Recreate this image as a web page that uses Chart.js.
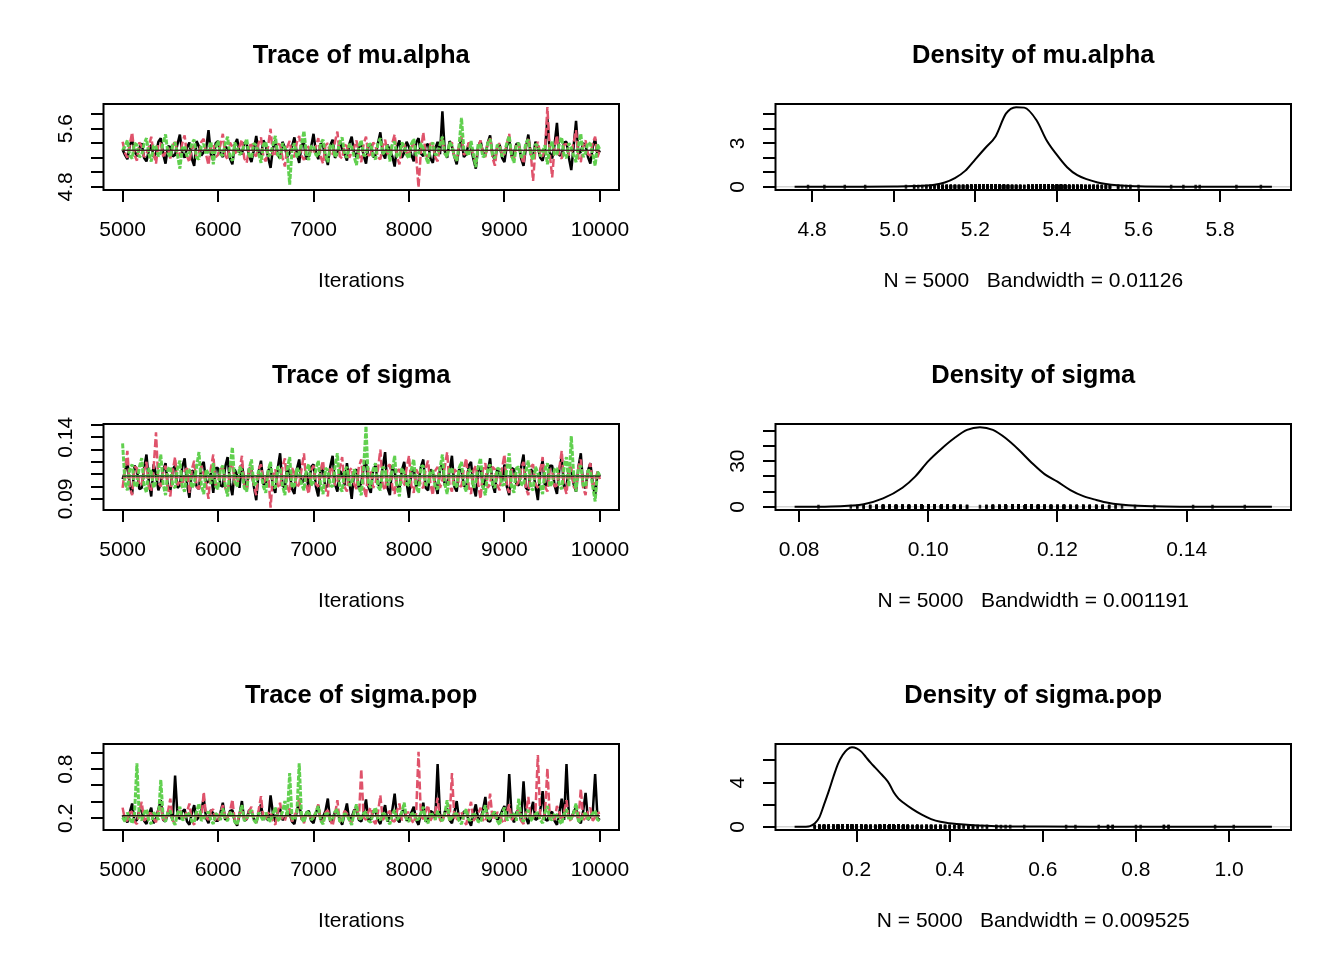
<!DOCTYPE html>
<html>
<head>
<meta charset="utf-8">
<script src="https://cdn.jsdelivr.net/npm/chart.js@4.4.1/dist/chart.umd.min.js"></script>
<style>
html, body { margin: 0; padding: 0; background: #fff; }
#wrap { position: relative; width: 1344px; height: 960px; }
canvas { position: absolute; }
</style>
</head>
<body>
<div id="wrap">
<canvas id="trace1" width="672" height="320" style="left:0;top:0"></canvas>
<canvas id="dens1" width="672" height="320" style="left:672px;top:0"></canvas>
<canvas id="trace2" width="672" height="320" style="left:0;top:320px"></canvas>
<canvas id="dens2" width="672" height="320" style="left:672px;top:320px"></canvas>
<canvas id="trace3" width="672" height="320" style="left:0;top:640px"></canvas>
<canvas id="dens3" width="672" height="320" style="left:672px;top:640px"></canvas>
</div>
<script>
// thinned iterations (every 25th of 5000..10000)
var iterations = Array.from({length: 201}, function (_, i) { return 5000 + 25 * i; });

// ---- mu.alpha ----
var muAlphaChain1 = [
  5.31,5.24,5.18,5.37,5.45,5.29,5.22,5.33,5.40,5.20,5.15,5.30,5.38,5.21,5.26,5.42,5.47,5.25,5.12,5.36,
  5.35,5.22,5.24,5.39,5.52,5.27,5.20,5.34,5.41,5.19,5.09,5.43,5.36,5.23,5.28,5.32,5.58,5.25,5.17,5.40,
  5.43,5.26,5.21,5.35,5.33,5.19,5.11,5.38,5.46,5.28,5.25,5.41,5.39,5.22,5.14,5.31,5.50,5.27,5.23,5.44,
  5.37,5.20,5.06,5.33,5.44,5.24,5.19,5.42,5.34,5.21,5.27,5.36,5.48,5.26,5.13,5.38,5.40,5.18,5.22,5.35,
  5.53,5.28,5.18,5.40,5.36,5.23,5.10,5.37,5.45,5.20,5.26,5.43,5.32,5.25,5.16,5.39,5.49,5.27,5.21,5.34,
  5.41,5.23,5.12,5.36,5.38,5.21,5.24,5.40,5.55,5.26,5.19,5.38,5.30,5.22,5.08,5.35,5.44,5.20,5.27,5.42,
  5.35,5.24,5.15,5.41,5.47,5.26,5.22,5.37,5.39,5.19,5.13,5.33,5.42,5.25,5.84,5.29,5.20,5.43,5.36,5.22,
  5.11,5.34,5.46,5.21,5.25,5.40,5.33,5.18,5.05,5.36,5.43,5.27,5.23,5.41,5.51,5.24,5.17,5.35,5.38,5.20,
  5.14,5.37,5.45,5.22,5.26,5.39,5.40,5.19,5.09,5.34,5.52,5.25,5.21,5.42,5.35,5.20,5.16,5.31,5.74,5.27,
  5.19,5.38,5.68,5.23,5.24,5.41,5.42,5.20,5.03,5.36,5.71,5.26,5.28,5.40,5.37,5.21,5.12,5.35,5.46,5.24, 5.30];
var muAlphaChain2 = [
  5.42,5.27,5.20,5.38,5.55,5.24,5.16,5.41,5.36,5.21,5.25,5.35,5.49,5.26,5.12,5.39,5.40,5.22,5.28,5.34,
  5.19,5.36,5.44,5.25,5.23,5.40,5.51,5.22,5.14,5.33,5.37,5.20,5.27,5.42,5.46,5.24,5.10,5.37,5.39,5.21,
  5.24,5.38,5.53,5.23,5.18,5.41,5.35,5.26,5.29,5.36,5.45,5.19,5.13,5.34,5.41,5.25,5.22,5.40,5.48,5.21,
  5.15,5.37,5.60,5.22,5.26,5.39,5.38,5.20,5.08,5.35,5.43,5.24,5.21,5.41,5.50,5.23,5.17,5.38,5.34,5.26,
  5.27,5.35,5.47,5.21,5.12,5.37,5.40,5.25,5.23,5.42,5.56,5.22,5.19,5.38,5.36,5.20,5.28,5.34,5.44,5.24,
  5.14,5.39,5.49,5.23,5.25,5.41,5.37,5.20,5.18,5.36,5.45,5.26,5.22,5.40,5.52,5.21,5.11,5.35,5.39,5.27,
  5.26,5.34,5.43,5.22,4.79,5.30,5.55,5.24,5.20,5.40,5.38,5.21,5.15,5.37,5.46,5.25,5.24,5.39,5.41,5.20,
  5.17,5.38,5.50,5.24,5.27,5.41,5.36,5.22,5.13,5.35,5.44,5.26,5.21,5.40,5.48,5.20,5.09,5.36,5.40,5.23,
  5.25,5.39,5.53,5.21,5.18,5.40,5.37,5.24,5.12,5.36,5.46,5.28,4.88,5.33,5.42,5.25,5.22,5.31,5.90,5.26,
  4.93,5.35,5.51,5.22,5.19,5.38,5.39,5.24,5.26,5.41,5.58,5.20,5.14,5.37,5.44,5.25,5.23,5.40,5.49,5.21, 5.32];
var muAlphaChain3 = [
  5.30,5.36,5.44,5.23,5.19,5.40,5.38,5.21,5.24,5.39,5.47,5.25,5.15,5.37,5.35,5.22,5.27,5.41,5.52,5.26,
  5.21,5.38,5.41,5.24,5.05,5.33,5.36,5.22,5.26,5.40,5.45,5.20,5.18,5.36,5.39,5.25,5.29,5.42,5.11,5.34,
  5.43,5.25,5.23,5.39,5.49,5.22,5.16,5.41,5.34,5.24,5.28,5.37,5.46,5.23,5.20,5.40,5.37,5.26,5.13,5.38,
  5.42,5.22,5.25,5.38,5.50,5.24,5.19,5.40,5.33,5.27,4.83,5.31,5.40,5.21,5.26,5.39,5.57,5.25,5.17,5.36,
  5.36,5.24,5.22,5.40,5.45,5.23,5.14,5.37,5.38,5.21,5.27,5.41,5.48,5.25,5.20,5.39,5.35,5.22,5.10,5.36,
  5.44,5.23,5.24,5.38,5.39,5.22,5.18,5.40,5.47,5.25,5.29,5.37,5.15,5.39,5.42,5.21,5.23,5.41,5.36,5.24,
  5.19,5.39,5.46,5.23,5.26,5.40,5.33,5.22,5.12,5.36,5.41,5.24,5.25,5.38,5.49,5.26,5.21,5.41,5.37,5.22,
  5.16,5.37,5.75,5.30,5.28,5.23,5.43,5.25,5.07,5.39,5.38,5.21,5.24,5.40,5.46,5.24,5.19,5.38,5.35,5.22,
  5.27,5.40,5.50,5.23,5.13,5.38,5.40,5.21,5.22,5.41,5.45,5.25,5.17,5.39,5.36,5.22,5.29,5.37,5.11,5.34,
  5.42,5.24,5.25,5.39,5.48,5.22,5.20,5.40,5.34,5.23,5.14,5.37,5.53,5.21,5.27,5.41,5.39,5.25,5.09,5.38, 5.31];
var muAlphaSmooth = [5.305, 5.300, 5.302];
var muAlphaRange = [4.80, 5.897];
var muAlphaDensX = [4.757,4.9,5.0,5.05,5.1,5.125,5.15,5.175,5.2,5.225,5.25,5.275,5.3,5.32,5.35,5.375,5.4,5.425,5.45,5.5,5.55,5.6,5.7,5.927];
var muAlphaDensY = [0,0.005,0.02,0.05,0.15,0.3,0.6,1.1,1.9,2.7,3.5,5.05,5.5,5.47,4.6,3.2,2.2,1.35,0.8,0.3,0.1,0.04,0.01,0];

// ---- sigma ----
var sigmaChain1 = [
  0.106,0.112,0.121,0.101,0.094,0.117,0.114,0.098,0.099,0.115,0.126,0.104,0.092,0.118,0.110,0.097,0.103,0.113,0.119,0.100,
  0.096,0.114,0.117,0.099,0.101,0.116,0.123,0.102,0.091,0.113,0.112,0.100,0.098,0.117,0.120,0.103,0.104,0.111,0.095,0.115,
  0.115,0.101,0.100,0.116,0.124,0.103,0.093,0.114,0.109,0.099,0.118,0.105,0.097,0.115,0.113,0.100,0.089,0.112,0.121,0.102,
  0.102,0.113,0.116,0.100,0.095,0.115,0.127,0.101,0.099,0.117,0.111,0.098,0.094,0.114,0.122,0.103,0.105,0.112,0.097,0.116,
  0.118,0.100,0.092,0.115,0.113,0.099,0.101,0.116,0.125,0.102,0.096,0.113,0.110,0.101,0.119,0.104,0.090,0.112,0.114,0.098,
  0.103,0.115,0.121,0.100,0.095,0.114,0.117,0.102,0.100,0.116,0.128,0.099,0.093,0.117,0.112,0.101,0.098,0.113,0.120,0.103,
  0.091,0.112,0.115,0.100,0.104,0.116,0.122,0.099,0.097,0.114,0.111,0.103,0.094,0.115,0.118,0.101,0.102,0.113,0.125,0.100,
  0.096,0.114,0.113,0.101,0.099,0.117,0.120,0.100,0.092,0.113,0.116,0.099,0.105,0.112,0.123,0.102,0.095,0.115,0.110,0.104,
  0.118,0.100,0.093,0.115,0.114,0.102,0.101,0.116,0.126,0.099,0.097,0.114,0.112,0.101,0.089,0.113,0.121,0.100,0.103,0.117,
  0.117,0.101,0.094,0.114,0.124,0.099,0.100,0.115,0.113,0.102,0.096,0.116,0.127,0.100,0.099,0.113,0.119,0.103,0.092,0.112, 0.108];
var sigmaChain2 = [
  0.099,0.114,0.129,0.100,0.093,0.116,0.115,0.101,0.102,0.113,0.120,0.099,0.096,0.115,0.144,0.103,0.100,0.112,0.117,0.098,
  0.092,0.113,0.124,0.101,0.105,0.099,0.113,0.115,0.095,0.114,0.121,0.100,0.098,0.117,0.110,0.102,0.090,0.115,0.126,0.101,
  0.103,0.114,0.116,0.099,0.094,0.115,0.119,0.102,0.101,0.113,0.125,0.100,0.097,0.116,0.112,0.101,0.093,0.114,0.118,0.103,
  0.106,0.112,0.083,0.109,0.114,0.101,0.099,0.116,0.123,0.100,0.095,0.115,0.111,0.099,0.102,0.114,0.127,0.101,0.094,0.113,
  0.117,0.102,0.100,0.114,0.121,0.099,0.092,0.116,0.113,0.101,0.104,0.115,0.124,0.100,0.096,0.113,0.115,0.102,0.098,0.116,
  0.122,0.100,0.091,0.115,0.112,0.099,0.103,0.114,0.130,0.101,0.097,0.116,0.118,0.100,0.094,0.113,0.114,0.102,0.101,0.115,
  0.125,0.101,0.095,0.114,0.110,0.100,0.099,0.115,0.121,0.102,0.093,0.113,0.116,0.099,0.105,0.116,0.128,0.101,0.096,0.114,
  0.112,0.101,0.100,0.115,0.123,0.100,0.094,0.113,0.117,0.102,0.090,0.114,0.119,0.099,0.102,0.116,0.114,0.101,0.097,0.115,
  0.126,0.100,0.095,0.114,0.111,0.101,0.104,0.115,0.120,0.099,0.093,0.116,0.118,0.102,0.099,0.113,0.124,0.100,0.096,0.114,
  0.113,0.100,0.101,0.115,0.129,0.101,0.094,0.114,0.116,0.100,0.098,0.116,0.122,0.099,0.093,0.113,0.119,0.101,0.104,0.112, 0.106];
var sigmaChain3 = [
  0.135,0.103,0.097,0.114,0.118,0.100,0.101,0.116,0.123,0.101,0.095,0.115,0.112,0.099,0.104,0.113,0.126,0.102,0.093,0.114,
  0.116,0.101,0.099,0.115,0.121,0.100,0.096,0.113,0.114,0.099,0.102,0.116,0.128,0.101,0.094,0.114,0.110,0.102,0.119,0.100,
  0.098,0.114,0.117,0.101,0.092,0.115,0.132,0.104,0.100,0.116,0.113,0.099,0.096,0.114,0.122,0.101,0.103,0.113,0.111,0.100,
  0.095,0.113,0.120,0.100,0.099,0.116,0.115,0.101,0.093,0.114,0.124,0.099,0.101,0.115,0.112,0.102,0.097,0.113,0.118,0.101,
  0.104,0.114,0.121,0.100,0.094,0.115,0.113,0.101,0.100,0.116,0.127,0.099,0.096,0.113,0.116,0.101,0.102,0.114,0.110,0.100,
  0.093,0.115,0.149,0.102,0.099,0.114,0.119,0.100,0.097,0.116,0.114,0.101,0.105,0.113,0.125,0.099,0.092,0.115,0.111,0.102,
  0.101,0.114,0.122,0.100,0.095,0.116,0.117,0.101,0.103,0.112,0.113,0.099,0.098,0.115,0.126,0.102,0.094,0.114,0.115,0.100,
  0.100,0.115,0.120,0.101,0.096,0.114,0.112,0.099,0.104,0.116,0.123,0.100,0.093,0.113,0.118,0.102,0.099,0.115,0.114,0.101,
  0.102,0.114,0.127,0.100,0.095,0.115,0.116,0.102,0.101,0.113,0.121,0.099,0.097,0.116,0.111,0.101,0.094,0.114,0.119,0.100,
  0.103,0.114,0.115,0.101,0.098,0.116,0.124,0.100,0.141,0.110,0.096,0.115,0.117,0.101,0.100,0.113,0.113,0.100,0.088,0.112, 0.109];
var sigmaSmooth = [0.1085, 0.1072, 0.1090];
var sigmaRange = [0.0836, 0.1482];
var sigmaDensX = [0.0793,0.084,0.087,0.090,0.093,0.096,0.098,0.100,0.102,0.104,0.106,0.108,0.110,0.112,0.114,0.116,0.118,0.120,0.122,0.124,0.126,0.128,0.131,0.135,0.140,0.1532];
var sigmaDensY = [0,0.1,0.5,1.7,5.5,12.5,20,30,38,45,50.5,52.3,50.5,45,37.5,29,21.5,16.5,11,7,4.5,2.5,1,0.3,0.1,0];

// ---- sigma.pop ----
var sigmaPopChain1 = [
  0.24,0.19,0.15,0.27,0.38,0.16,0.18,0.30,0.29,0.17,0.13,0.25,0.33,0.14,0.20,0.31,0.42,0.18,0.16,0.28,
  0.27,0.17,0.72,0.24,0.19,0.28,0.31,0.16,0.12,0.26,0.36,0.18,0.22,0.29,0.45,0.20,0.14,0.30,0.26,0.17,
  0.17,0.27,0.39,0.18,0.21,0.29,0.30,0.16,0.11,0.25,0.41,0.17,0.19,0.30,0.28,0.19,0.15,0.26,0.37,0.18,
  0.23,0.17,0.48,0.26,0.16,0.28,0.32,0.18,0.20,0.27,0.26,0.16,0.13,0.29,0.40,0.19,0.18,0.27,0.29,0.17,
  0.14,0.26,0.35,0.18,0.22,0.29,0.44,0.16,0.17,0.28,0.27,0.19,0.12,0.25,0.38,0.17,0.21,0.30,0.31,0.18,
  0.16,0.27,0.43,0.17,0.19,0.29,0.28,0.18,0.13,0.26,0.36,0.16,0.23,0.30,0.50,0.19,0.15,0.28,0.30,0.17,
  0.20,0.27,0.34,0.18,0.12,0.26,0.39,0.16,0.18,0.29,0.27,0.19,0.86,0.25,0.17,0.28,0.32,0.18,0.14,0.27,
  0.41,0.18,0.21,0.28,0.29,0.17,0.11,0.26,0.37,0.19,0.19,0.30,0.46,0.17,0.16,0.27,0.26,0.18,0.22,0.29,
  0.35,0.18,0.74,0.22,0.15,0.27,0.31,0.17,0.65,0.21,0.13,0.28,0.40,0.18,0.20,0.29,0.53,0.19,0.17,0.26,
  0.28,0.17,0.12,0.27,0.44,0.18,0.86,0.23,0.19,0.28,0.33,0.17,0.14,0.29,0.51,0.18,0.22,0.27,0.74,0.20, 0.18];
var sigmaPopChain2 = [
  0.33,0.18,0.17,0.27,0.28,0.16,0.13,0.29,0.40,0.17,0.20,0.26,0.26,0.19,0.15,0.30,0.35,0.18,0.19,0.28,
  0.44,0.17,0.14,0.26,0.30,0.18,0.22,0.28,0.38,0.17,0.12,0.25,0.27,0.19,0.52,0.21,0.18,0.29,0.31,0.18,
  0.16,0.27,0.36,0.18,0.21,0.28,0.43,0.17,0.13,0.26,0.29,0.19,0.19,0.29,0.34,0.17,0.15,0.30,0.47,0.18,
  0.20,0.26,0.28,0.17,0.12,0.28,0.39,0.18,0.17,0.27,0.32,0.16,0.23,0.29,0.45,0.19,0.14,0.26,0.27,0.18,
  0.21,0.28,0.37,0.17,0.16,0.27,0.30,0.18,0.11,0.25,0.42,0.16,0.19,0.29,0.26,0.18,0.15,0.27,0.35,0.19,
  0.80,0.21,0.18,0.28,0.33,0.17,0.13,0.27,0.48,0.18,0.22,0.26,0.29,0.17,0.16,0.29,0.38,0.18,0.20,0.27,
  0.27,0.18,0.14,0.26,1.01,0.22,0.19,0.28,0.36,0.17,0.23,0.27,0.45,0.18,0.15,0.29,0.31,0.17,0.75,0.21,
  0.17,0.27,0.28,0.18,0.12,0.29,0.40,0.17,0.21,0.26,0.33,0.18,0.16,0.28,0.50,0.19,0.19,0.27,0.26,0.17,
  0.14,0.27,0.37,0.18,0.22,0.28,0.30,0.17,0.13,0.26,0.46,0.19,0.20,0.29,0.97,0.23,0.18,0.27,0.81,0.20,
  0.24,0.18,0.35,0.27,0.15,0.28,0.42,0.17,0.19,0.26,0.29,0.18,0.56,0.20,0.17,0.28,0.33,0.17,0.21,0.26, 0.27];
var sigmaPopChain3 = [
  0.21,0.16,0.27,0.19,0.14,0.25,0.87,0.20,0.18,0.26,0.31,0.17,0.13,0.27,0.24,0.18,0.67,0.21,0.16,0.28,
  0.29,0.17,0.12,0.26,0.34,0.18,0.19,0.27,0.25,0.16,0.15,0.28,0.38,0.17,0.20,0.25,0.28,0.18,0.13,0.26,
  0.23,0.18,0.32,0.19,0.17,0.27,0.26,0.16,0.12,0.25,0.36,0.17,0.19,0.26,0.30,0.18,0.14,0.27,0.22,0.17,
  0.27,0.19,0.16,0.26,0.33,0.17,0.20,0.28,0.41,0.22,0.75,0.20,0.18,0.25,0.87,0.21,0.15,0.26,0.29,0.18,
  0.21,0.27,0.35,0.17,0.13,0.25,0.26,0.18,0.19,0.28,0.31,0.16,0.16,0.26,0.24,0.18,0.12,0.27,0.37,0.19,
  0.20,0.26,0.28,0.17,0.15,0.27,0.33,0.19,0.18,0.26,0.25,0.17,0.13,0.25,0.30,0.18,0.22,0.27,0.39,0.18,
  0.16,0.25,0.27,0.18,0.19,0.26,0.34,0.17,0.14,0.27,0.24,0.18,0.29,0.19,0.17,0.26,0.42,0.17,0.21,0.25,
  0.26,0.17,0.13,0.25,0.31,0.18,0.18,0.27,0.23,0.16,0.15,0.26,0.36,0.18,0.20,0.25,0.28,0.17,0.12,0.26,
  0.33,0.18,0.19,0.26,0.25,0.17,0.44,0.20,0.16,0.26,0.30,0.17,0.21,0.25,0.27,0.18,0.14,0.27,0.35,0.19,
  0.18,0.26,0.24,0.17,0.13,0.25,0.31,0.18,0.20,0.27,0.38,0.17,0.16,0.25,0.26,0.19,0.22,0.26,0.29,0.18, 0.17];
var sigmaPopSmooth = [0.232, 0.228, 0.224];
var sigmaPopRange = [0.096, 1.067];
var sigmaPopDensX = [0.0668,0.09,0.10,0.11,0.12,0.13,0.14,0.15,0.16,0.17,0.18,0.19,0.20,0.21,0.22,0.23,0.24,0.25,0.26,0.27,0.28,0.29,0.30,0.32,0.34,0.36,0.38,0.40,0.43,0.46,0.50,0.55,0.60,0.70,0.80,1.092];
var sigmaPopDensY = [0,0.01,0.06,0.3,0.85,2.0,3.2,4.5,5.7,6.5,7.0,7.2,7.1,6.8,6.3,5.8,5.35,4.9,4.45,3.9,3.1,2.55,2.2,1.6,1.1,0.7,0.45,0.33,0.2,0.12,0.06,0.03,0.02,0.01,0.005,0];

// ---- tick labels ----
var iterTicks = ['5000','6000','7000','8000','9000','10000'];
var muAlphaTraceTicks = ['4.8','5.0','5.2','5.4','5.6','5.8'];
var muAlphaTraceShown = ['4.8','5.6'];
var sigmaTraceTicks = ['0.09','0.10','0.11','0.12','0.13','0.14','0.15'];
var sigmaTraceShown = ['0.09','0.14'];
var sigmaPopTraceTicks = ['0.2','0.4','0.6','0.8','1.0'];
var sigmaPopTraceShown = ['0.2','0.8'];
var muAlphaDensTicks = ['4.8','5.0','5.2','5.4','5.6','5.8'];
var sigmaDensTicks = ['0.08','0.10','0.12','0.14'];
var sigmaPopDensTicks = ['0.2','0.4','0.6','0.8','1.0'];
var muAlphaDensYTicks = ['0','1','2','3','4','5'];
var muAlphaDensYShown = ['0','3'];
var sigmaDensYTicks = ['0','10','20','30','40','50'];
var sigmaDensYShown = ['0','30'];
var sigmaPopDensYTicks = ['0','2','4','6'];
var sigmaPopDensYShown = ['0','4'];

Chart.defaults.font.family = "'Liberation Sans', Arial, Helvetica, sans-serif";
Chart.defaults.color = '#000';

var CHAIN_COLORS = ['#000000', '#DF536B', '#61D04F'];
var CHAIN_DASH = [[], [8, 3], [5, 1.5]];
var CHAIN_WIDTH = [2.5, 2.5, 3];

// R pads axis limits by 4% on each side
function rExtend(lo, hi) {
  var d = (hi - lo) * 0.04;
  return [lo - d, hi + d];
}

var boxPlugin = {
  id: 'rbox',
  afterDatasetsDraw: function (chart) {
    var a = chart.chartArea, c = chart.ctx;
    c.save();
    c.strokeStyle = '#000';
    c.lineWidth = 2;
    c.strokeRect(a.left, a.top, a.right - a.left, a.bottom - a.top);
    c.restore();
  }
};

function xAxis(lim, ticks, title) {
  return {
    type: 'linear', min: lim[0], max: lim[1],
    afterBuildTicks: function (s) { s.ticks = ticks.map(function (t) { return {value: parseFloat(t)}; }); },
    afterFit: function (s) { s.height = 130; },
    ticks: {callback: function (v, i) { return ticks[i]; }, font: {size: 21}, padding: 16, maxRotation: 0, autoSkip: false},
    grid: {drawOnChartArea: false, tickLength: 12, color: '#000', lineWidth: 2},
    border: {display: false},
    title: {display: true, text: title, font: {size: 21}, padding: {top: 0, bottom: 26.4}}
  };
}

function yAxis(lim, ticks, shown, pad) {
  return {
    type: 'linear', min: lim[0], max: lim[1],
    afterBuildTicks: function (s) { s.ticks = ticks.map(function (t) { return {value: parseFloat(t)}; }); },
    afterFit: function (s) { s.width = 103.5; },
    ticks: {
      callback: function (v, i) { return shown.indexOf(ticks[i]) >= 0 ? ticks[i] : ''; },
      font: {size: 21}, padding: pad, minRotation: 90, maxRotation: 90, crossAlign: 'center', autoSkip: false
    },
    grid: {drawOnChartArea: false, tickLength: 12.5, color: '#000', lineWidth: 2},
    border: {display: false}
  };
}

function baseOptions(title, x, y) {
  return {
    responsive: false, animation: false, devicePixelRatio: 1, events: [],
    layout: {padding: {left: 0, top: 0, right: 53, bottom: 0}},
    plugins: {
      legend: {display: false}, tooltip: {enabled: false},
      title: {display: true, text: title, fullSize: false, font: {size: 25.5, weight: 'bold'}, padding: {top: 40.7, bottom: 32.7}}
    },
    scales: {x: x, y: y}
  };
}

function traceChart(id, title, chains, smooth, range, yTicks, yShown, yPad) {
  var datasets = chains.map(function (vals, k) {
    return {
      data: vals.map(function (v, i) { return {x: iterations[i], y: v}; }),
      borderColor: CHAIN_COLORS[k], borderDash: CHAIN_DASH[k], borderWidth: CHAIN_WIDTH[k],
      borderJoinStyle: 'bevel', pointRadius: 0, tension: 0, order: 3 - k
    };
  });
  smooth.forEach(function (v, k) {
    datasets.push({
      data: [{x: iterations[0], y: v}, {x: iterations[iterations.length - 1], y: v}],
      borderColor: CHAIN_COLORS[k], borderWidth: 1, pointRadius: 0, order: 0
    });
  });
  new Chart(document.getElementById(id), {
    type: 'line',
    data: {datasets: datasets},
    options: baseOptions(title, xAxis([4800, 10200], iterTicks, 'Iterations'), yAxis(rExtend(range[0], range[1]), yTicks, yShown, yPad)),
    plugins: [boxPlugin]
  });
}

function densChart(id, title, sub, dx, dy, obs, xTicks, yTicks, yShown, yPad) {
  var xLim = rExtend(dx[0], dx[dx.length - 1]);
  var yLim = rExtend(0, Math.max.apply(null, dy));
  var datasets = [
    {data: [{x: xLim[0], y: 0}, {x: xLim[1], y: 0}], borderColor: '#bebebe', borderWidth: 1, pointRadius: 0, order: 3},
    {data: obs.map(function (v) { return {x: v, y: 0}; }), showLine: false, pointStyle: 'line', rotation: 90,
      pointRadius: 2, pointBorderWidth: 2.5, pointBorderColor: 'rgba(0,0,0,0.85)', order: 2},
    {data: dx.map(function (v, i) { return {x: v, y: dy[i]}; }), borderColor: '#000', borderWidth: 2,
      pointRadius: 0, cubicInterpolationMode: 'monotone', order: 1}
  ];
  new Chart(document.getElementById(id), {
    type: 'line',
    data: {datasets: datasets},
    options: baseOptions(title, xAxis(xLim, xTicks, sub), yAxis(yLim, yTicks, yShown, yPad)),
    plugins: [boxPlugin]
  });
}

traceChart('trace1', 'Trace of mu.alpha', [muAlphaChain1, muAlphaChain2, muAlphaChain3], muAlphaSmooth,
  muAlphaRange, muAlphaTraceTicks, muAlphaTraceShown, 10.4);
densChart('dens1', 'Density of mu.alpha', 'N = 5000   Bandwidth = 0.01126', muAlphaDensX, muAlphaDensY,
  muAlphaChain1.concat(muAlphaChain2, muAlphaChain3), muAlphaDensTicks, muAlphaDensYTicks, muAlphaDensYShown, 19.2);

traceChart('trace2', 'Trace of sigma', [sigmaChain1, sigmaChain2, sigmaChain3], sigmaSmooth,
  sigmaRange, sigmaTraceTicks, sigmaTraceShown, 4);
densChart('dens2', 'Density of sigma', 'N = 5000   Bandwidth = 0.001191', sigmaDensX, sigmaDensY,
  sigmaChain1.concat(sigmaChain2, sigmaChain3), sigmaDensTicks, sigmaDensYTicks, sigmaDensYShown, 13.3);

traceChart('trace3', 'Trace of sigma.pop', [sigmaPopChain1, sigmaPopChain2, sigmaPopChain3], sigmaPopSmooth,
  sigmaPopRange, sigmaPopTraceTicks, sigmaPopTraceShown, 10.4);
densChart('dens3', 'Density of sigma.pop', 'N = 5000   Bandwidth = 0.009525', sigmaPopDensX, sigmaPopDensY,
  sigmaPopChain1.concat(sigmaPopChain2, sigmaPopChain3), sigmaPopDensTicks, sigmaPopDensYTicks, sigmaPopDensYShown, 19.2);
</script>
</body>
</html>
